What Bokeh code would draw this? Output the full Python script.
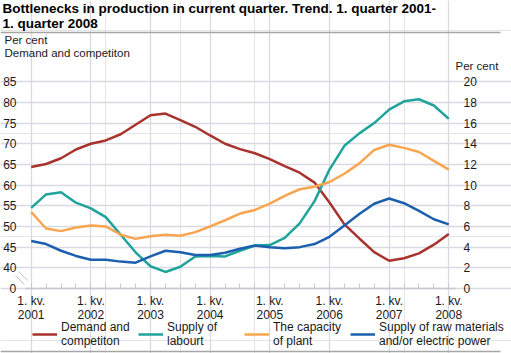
from bokeh.plotting import figure
from bokeh.models import (LinearAxis, Range1d, FixedTicker, Legend, LegendItem, Grid, Label)
from bokeh.core.properties import value
from bokeh.embed import file_html
from bokeh.resources import INLINE

# ---------------- data ----------------
quarters = list(range(29))  # 1. kv. 2001 ... 1. kv. 2008
year_ticks = [0, 4, 8, 12, 16, 20, 24, 28]
year_labels = ["1. kv.\n2001", "1. kv.\n2002", "1. kv.\n2003", "1. kv.\n2004",
               "1. kv.\n2005", "1. kv.\n2006", "1. kv.\n2007", "1. kv.\n2008"]

# left axis (per cent)
demand = [64.4, 65.1, 66.5, 68.6, 70.0, 70.8, 72.3, 74.6, 76.9, 77.3, 75.7, 74.1, 72.0, 70.0,
          68.7, 67.7, 66.3, 64.6, 63.0, 60.6, 55.8, 50.5, 47.1, 43.8, 41.7, 42.3, 43.5, 45.6, 48.2]
# right axis (per cent)
labour = [7.8, 9.1, 9.3, 8.3, 7.75, 6.9, 5.2, 3.5, 2.15, 1.6, 2.1, 3.1, 3.15, 3.1, 3.65,
          4.15, 4.2, 4.9, 6.3, 8.45, 11.5, 13.8, 15.0, 16.0, 17.3, 18.1, 18.3, 17.7, 16.4]
capacity = [7.4, 5.8, 5.55, 5.9, 6.1, 6.0, 5.2, 4.8, 5.05, 5.2, 5.1, 5.45, 6.0, 6.6, 7.25,
            7.6, 8.2, 8.95, 9.6, 9.85, 10.3, 11.1, 12.1, 13.4, 13.9, 13.6, 13.2, 12.35, 11.5]
raw = [4.6, 4.3, 3.65, 3.15, 2.78, 2.78, 2.6, 2.5, 3.1, 3.65, 3.5, 3.25, 3.25, 3.45, 3.85,
       4.15, 4.0, 3.9, 4.0, 4.3, 5.0, 6.1, 7.2, 8.2, 8.7, 8.25, 7.5, 6.7, 6.2]

left_ticks = [40, 45, 50, 55, 60, 65, 70, 75, 80, 85]    # plus a broken-axis "0" at the bottom
right_ticks = [0, 2, 4, 6, 8, 10, 12, 14, 16, 18, 20]
zero_label = "0"

names = ["Demand and\ncompetiton", "Supply of\nlabourt", "The capacity\nof plant",
         "Supply of raw materials\nand/or electric power"]
colors = ["#a8322d", "#1fa39b", "#f9a54f", "#1c5fae"]

title_lines = ["Bottlenecks in production in current quarter. Trend. 1. quarter 2001-",
               "1. quarter 2008"]
left_unit = ["Per cent", "Demand and competiton"]
right_unit = "Per cent"

# ---------------- layout constants (pixels) ----------------
FONT = "Liberation Sans"
TXT = "#1a1a1a"
GRID = "#d9d9e1"
SEP = "#a6a6a6"
W, H = 511, 353
X0_PX, Q_PX = 30.7, 14.914      # pixel of first quarter, pixels per quarter
Y0_PX, U_PX = 288.0, 10.34      # pixel of value 0 (right axis), pixels per unit
PLOT_L, PLOT_R = 25.0, 455.0    # plotting area left / right edges

def xd(px):
    return (px - X0_PX) / Q_PX

def yd(py):
    return (Y0_PX - py) / U_PX

p = figure(width=W, height=H, output_backend="svg", toolbar_location=None,
           x_range=Range1d(xd(0), xd(W)), y_range=Range1d(yd(H), yd(0)),
           x_axis_location=None, y_axis_location=None, min_border=0)
# left axis scale: 40..85 on the same height as 2..20 on the right axis
p.extra_y_ranges = {"left": Range1d(35 + 2.5 * yd(H), 35 + 2.5 * yd(0))}
p.outline_line_color = None

XL, XR = xd(PLOT_L), xd(PLOT_R)

p.add_layout(Grid(dimension=1, ticker=FixedTicker(ticks=right_ticks), bounds=(XL, XR),
                  grid_line_color=GRID, grid_line_width=1.3))
p.add_layout(Grid(dimension=0, ticker=FixedTicker(ticks=year_ticks), bounds=(0, 20),
                  grid_line_color=GRID, grid_line_width=1.3))

def style_axis(ax):
    ax.major_label_text_font = FONT
    ax.major_label_text_font_size = "12px"
    ax.major_label_text_color = TXT

la = LinearAxis(y_range_name="left", ticker=FixedTicker(ticks=left_ticks), fixed_location=XL)
style_axis(la)
la.axis_line_color = None
la.major_tick_line_color = None
la.minor_tick_line_color = None
la.major_tick_out = 0
la.major_tick_in = 0
la.major_label_standoff = 9
p.add_layout(la, "left")

ra = LinearAxis(ticker=FixedTicker(ticks=right_ticks[1:]), fixed_location=XR)
style_axis(ra)
ra.axis_line_color = None
ra.major_tick_line_color = None
ra.minor_tick_line_color = None
ra.major_tick_out = 0
ra.major_tick_in = 0
ra.major_label_standoff = 8
p.add_layout(ra, "right")

xa = LinearAxis(ticker=FixedTicker(ticks=year_ticks, minor_ticks=quarters),
                major_label_overrides={t: l for t, l in zip(year_ticks, year_labels)},
                fixed_location=0, bounds=(XL, XR))
style_axis(xa)
xa.major_label_text_line_height = 1.0
xa.axis_line_color = "#c8c8d0"
xa.axis_line_width = 1.3
xa.major_tick_line_color = "#c8c8d0"
xa.minor_tick_line_color = "#c8c8d0"
xa.major_tick_in = 5
xa.major_tick_out = 0
xa.minor_tick_in = 5
xa.minor_tick_out = 0
xa.major_label_standoff = 5
p.add_layout(xa, "below")

# separator lines and axis-break marks (plain segments)
p.segment(x0=[xd(0), xd(0)], y0=[yd(32), yd(351)], x1=[xd(500), xd(500)], y1=[yd(32), yd(351)],
          line_color=SEP, line_width=1.5)
p.segment(x0=[xd(18), xd(15)], y0=[yd(271), yd(275)], x1=[xd(27), xd(24)], y1=[yd(280), yd(284)],
          line_color="#c4c4cc", line_width=1)

# bottom "0" of both value axes
p.text(x=[xd(PLOT_L - 9), xd(PLOT_R + 8)], y=[0, 0], text=[zero_label, zero_label],
       text_align="left", text_baseline="middle", text_font=value(FONT),
       text_font_size="12px", text_color=TXT, x_offset=[-7, 0])

r1 = p.line(quarters, demand, y_range_name="left", line_color=colors[0], line_width=2.5)
r2 = p.line(quarters, labour, line_color=colors[1], line_width=2.5)
r3 = p.line(quarters, capacity, line_color=colors[2], line_width=2.5)
r4 = p.line(quarters, raw, line_color=colors[3], line_width=2.5)

legend = Legend(items=[LegendItem(label=n, renderers=[r]) for n, r in zip(names, [r1, r2, r3, r4])],
                orientation="horizontal", location=(32, H - 348),
                glyph_width=25, glyph_height=14, label_standoff=4, spacing=4, label_width=73,
                padding=0, margin=0, border_line_color=None, background_fill_alpha=0,
                label_text_font=FONT, label_text_font_size="12px", label_text_color=TXT,
                label_text_line_height=1.05)
p.add_layout(legend, "center")

# texts (screen units, origin bottom-left of the canvas)
def lab(text, cx, cy, size="11.5px", style="normal"):
    p.add_layout(Label(x=cx, y=H - cy, x_units="screen", y_units="screen", text=text,
                       text_font=FONT, text_font_size=size, text_font_style=style,
                       text_color="#000000" if style == "bold" else TXT,
                       text_baseline="top", text_align="left"))

lab(title_lines[0], 2, 0, "13.5px", "bold")
lab(title_lines[1], 2, 15.5, "13.5px", "bold")
lab(left_unit[0], 4, 33.5)
lab(left_unit[1], 4, 46.5)
lab(right_unit, 455, 59)

open("out.html", "w").write(file_html(p, INLINE))
